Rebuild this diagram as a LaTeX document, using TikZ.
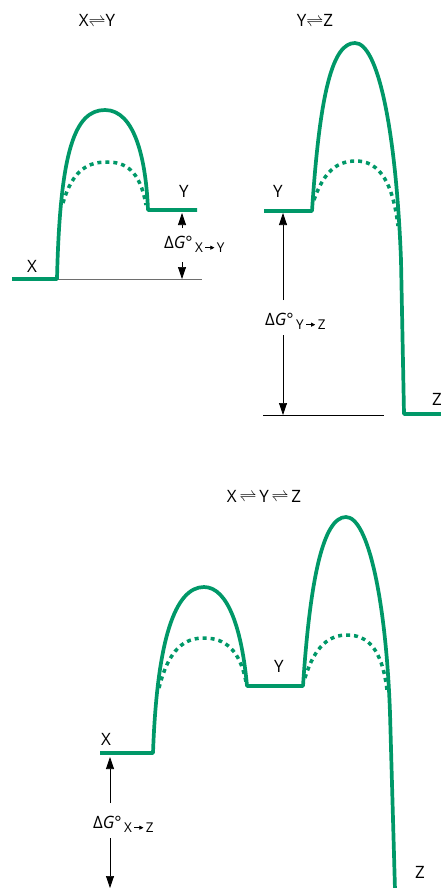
\documentclass[tikz,border=0pt]{standalone}
\usepackage{fontspec}
\setmainfont{Open Sans}
\usetikzlibrary{
    arrows.meta,
    positioning,
    calc
}
\definecolor{barrier}{RGB}{0,152,104}
\definecolor{refgray}{RGB}{110,110,110}

% small arrow used inside the subscripts
\newcommand{\rxnarrow}{\tikz[baseline=-0.6ex, x=1pt, y=1pt]
    \draw[line width=0.7pt, black, -{Triangle[length=4pt,width=4pt]}] (0,0) -- (9,0);}
% free energy label with subscript
\newcommand{\dGlabel}[2]{Δ\textit{G}°\raisebox{-4pt}{\fontsize{13.5}{13.5}\selectfont\,#1\,\rxnarrow\,#2}}

\tikzset{
    % --- Solid reaction profile ---
    profile/.style = {
        draw=barrier, line width=3.7pt, line join=round
    },
    % --- Dotted lowered barrier ---
    lowered/.style = {
        draw=barrier, line width=3.5pt,
        dash pattern=on 4pt off 4pt
    },
    % --- Thin reference level ---
    ref line/.style = {
        draw=refgray, line width=0.8pt
    },
    % --- Delta G arrow ---
    dG arrow/.style = {
        -{Triangle[length=12pt,width=8pt]}, line width=0.7pt
    },
    % --- Species and reaction labels ---
    species/.style = {
        font=\fontsize{17}{17}\selectfont, inner sep=0pt, anchor=base
    },
    dG/.style = {
        font=\fontsize{17}{17}\selectfont, inner sep=0pt, anchor=base west
    }
}

\begin{document}
\begin{tikzpicture}[x=1pt, y=-1pt]
\useasboundingbox (0,0) rectangle (441,888);

% ---------------------------------------------------------
% X <=> Y (top left)
% ---------------------------------------------------------
\node[species] (TitleXY) at (97,27) {X{$\rightleftharpoons$}Y};
\node[species] (XlabA) at (32,272) {X};
\node[species] (YlabA) at (184,197) {Y};

\draw[ref line] (57,279) -- (202,279);
\draw[profile] (12,279) -- (57,279)
    .. controls (60,150) and (75,110) .. (105,110)
    .. controls (135,110) and (146,160) .. (148,210) -- (197,210);
\draw[lowered] (63,203) .. controls (73,168) and (90,162) .. (107,162)
    .. controls (125,162) and (140,170) .. (146,205);

\node[dG] (dGXY) at (164,248) {\dGlabel{X}{Y}};
\coordinate (XYtop) at (182,213);
\coordinate (XYbot) at (182,279);
\draw[dG arrow] (182,228) -- (XYtop);
\draw[dG arrow] (182,262) -- (XYbot);

% ---------------------------------------------------------
% Y <=> Z (top right)
% ---------------------------------------------------------
\node[species] (TitleYZ) at (315,27) {Y{$\rightleftharpoons$}Z};
\node[species] (YlabB) at (278,197) {Y};
\node[species, anchor=base west] (ZlabB) at (432,405) {Z};

\draw[ref line, black] (263,415) -- (384,415);
\draw[profile] (264,211) -- (312,211)
    .. controls (320,90) and (333,43) .. (355,43)
    .. controls (378,43) and (396,130) .. (401,260) -- (404,414) -- (441,414);
\draw[lowered] (314,200) .. controls (325,168) and (340,161) .. (356,161)
    .. controls (375,161) and (392,175) .. (398,226);

\node[dG] (dGYZ) at (265,325) {\dGlabel{Y}{Z}};
\coordinate (YZtop) at (283,213);
\coordinate (YZbot) at (283,415);
\draw[dG arrow] (283,300) -- (YZtop);
\draw[dG arrow] (283,335) -- (YZbot);

% ---------------------------------------------------------
% X <=> Y <=> Z (bottom)
% ---------------------------------------------------------
\node[species] (TitleXYZ) at (264,502) {X\,{$\rightleftharpoons$}\,Y\,{$\rightleftharpoons$}\,Z};
\node[species] (XlabC) at (106,745) {X};
\node[species] (YlabC) at (279,672) {Y};
\node[species] (ZlabC) at (420,878) {Z};

\draw[profile] (100,753) -- (153,753)
    .. controls (157,640) and (175,587) .. (204,587)
    .. controls (228,587) and (242,630) .. (247,686) -- (303,686)
    .. controls (310,580) and (323,517) .. (346,517)
    .. controls (368,517) and (386,600) .. (390,713) -- (395,890);
\draw[lowered] (159,688) .. controls (169,648) and (185,638) .. (204,638)
    .. controls (225,638) and (240,650) .. (246,682);
\draw[lowered] (305,678) .. controls (315,645) and (330,635) .. (347,635)
    .. controls (367,635) and (382,648) .. (387,690);

\node[dG] (dGXZ) at (93,828) {\dGlabel{X}{Z}};
\coordinate (XZtop) at (110,757);
\coordinate (XZbot) at (110,888);
\draw[dG arrow] (110,803) -- (XZtop);
\draw[dG arrow] (110,838) -- (XZbot);

\end{tikzpicture}
\end{document}
